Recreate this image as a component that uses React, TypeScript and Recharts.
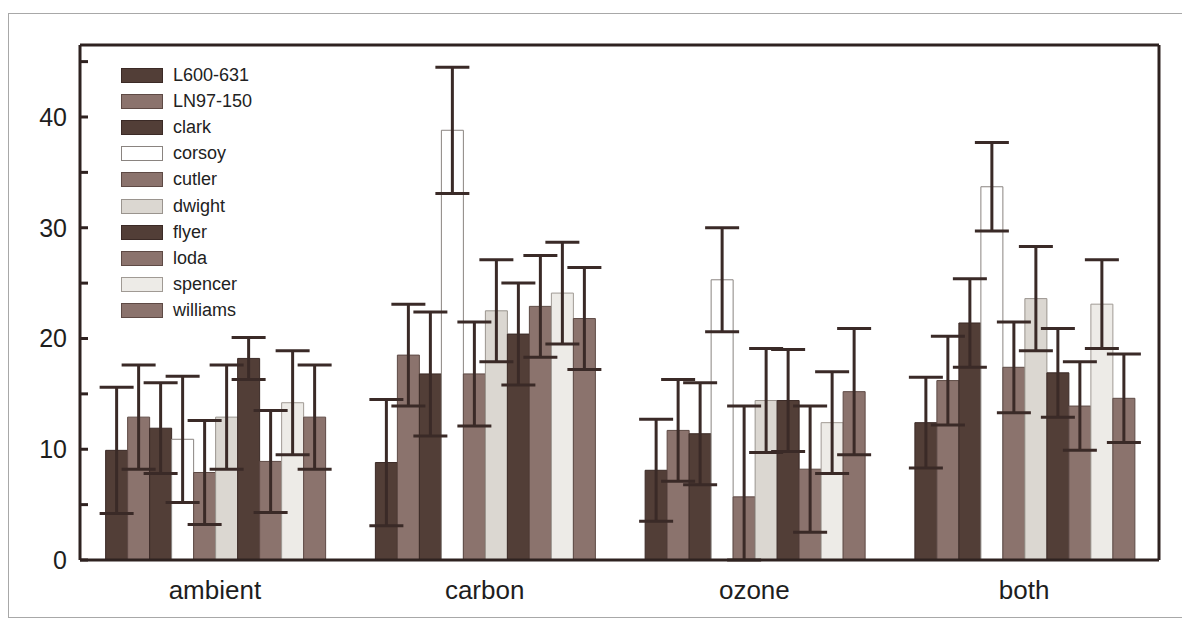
import { Bar, BarChart, ErrorBar, ReferenceLine, XAxis, YAxis } from "recharts";

const categories = ["ambient", "carbon", "ozone", "both"];

const seriesNames = ["L600-631", "LN97-150", "clark", "corsoy", "cutler", "dwight", "flyer", "loda", "spencer", "williams"];

// mean per category (ambient, carbon, ozone, both)
const l600 = [9.9, 8.8, 8.1, 12.4];
const ln97 = [12.9, 18.5, 11.7, 16.2];
const clark = [11.9, 16.8, 11.4, 21.4];
const corsoy = [10.9, 38.8, 25.3, 33.7];
const cutler = [7.9, 16.8, 5.7, 17.4];
const dwight = [12.9, 22.5, 14.4, 23.6];
const flyer = [18.2, 20.4, 14.4, 16.9];
const loda = [8.9, 22.9, 8.2, 13.9];
const spencer = [14.2, 24.1, 12.4, 23.1];
const williams = [12.9, 21.8, 15.2, 14.6];

// error bar half-lengths
const l600Err = [5.7, 5.7, 4.6, 4.1];
const ln97Err = [4.7, 4.6, 4.6, 4.0];
const clarkErr = [4.1, 5.6, 4.6, 4.0];
const corsoyErr = [5.7, 5.7, 4.7, 4.0];
const cutlerErr = [4.7, 4.7, 8.2, 4.1];
const dwightErr = [4.7, 4.6, 4.7, 4.7];
const flyerErr = [1.9, 4.6, 4.6, 4.0];
const lodaErr = [4.6, 4.6, 5.7, 4.0];
const spencerErr = [4.7, 4.6, 4.6, 4.0];
const williamsErr = [4.7, 4.6, 5.7, 4.0];

const yTicks = [0, 5, 10, 15, 20, 25, 30, 35, 40, 45];

const values = [l600, ln97, clark, corsoy, cutler, dwight, flyer, loda, spencer, williams];
const errors = [l600Err, ln97Err, clarkErr, corsoyErr, cutlerErr, dwightErr, flyerErr, lodaErr, spencerErr, williamsErr];

const DARK = "#523e37";
const MID = "#8b736d";
const fills = [DARK, MID, DARK, "#ffffff", MID, "#dbd7d1", DARK, MID, "#edebe7", MID];
const strokes = ["#3b2a26", "#5e4a45", "#3b2a26", "#8a8480", "#5e4a45", "#9a948e", "#3b2a26", "#5e4a45", "#a09a94", "#5e4a45"];

const data = categories.map((cat, i) => {
  const row: Record<string, any> = { cat };
  seriesNames.forEach((s, k) => {
    const v = values[k][i];
    const e = errors[k][i];
    row[`s${k}`] = v;
    row[`e${k}`] = [Math.min(e, v), e];
  });
  return row;
});

const FONT = "'Liberation Sans', Arial, sans-serif";
const INK = "#2e2220";
const BAR_INK = "#3a2a27";

function LeftTick(props: any) {
  const { x, y, payload } = props;
  const ax = x + 13;
  return (
    <g>
      <line x1={ax} x2={ax + 8} y1={y} y2={y} stroke={INK} strokeWidth={3} />
      {payload.value % 10 === 0 && (
        <text x={x} y={y} dy={9} textAnchor="end" fontSize={25} fill="#1e1e1e" fontFamily={FONT}>
          {payload.value}
        </text>
      )}
    </g>
  );
}

function RightTick(props: any) {
  const { x, y } = props;
  return <line x1={x - 8} x2={x} y1={y} y2={y} stroke={INK} strokeWidth={3} />;
}

function LegendBox() {
  return (
    <div style={{ position: "absolute", left: 121, top: 62, fontFamily: FONT }}>
      {seriesNames.map((s, k) => (
        <div key={s} style={{ display: "flex", alignItems: "center", height: 26.2 }}>
          <div
            style={{
              width: 40,
              height: 13,
              background: fills[k],
              border: `1px solid ${strokes[k]}`,
              marginRight: 10,
            }}
          />
          <span style={{ fontSize: 18, color: "#222" }}>{s}</span>
        </div>
      ))}
    </div>
  );
}

export default function App() {
  return (
    <div style={{ position: "absolute", left: 0, top: 0, width: 1182, height: 618, background: "#fff", overflow: "hidden" }}>
      <div
        style={{
          position: "absolute",
          left: 8,
          top: 13,
          width: 1190,
          height: 603,
          border: "1px solid #a8a8a8",
        }}
      />
      <BarChart
        width={1182}
        height={618}
        data={data}
        margin={{ top: 45, right: 22, bottom: 0, left: 0 }}
        barCategoryGap="9.5%"
        barGap={0}
      >
        <XAxis
          dataKey="cat"
          height={58}
          tickLine={false}
          tickSize={0}
          tickMargin={21}
          axisLine={{ stroke: INK, strokeWidth: 3 }}
          tick={{ fontSize: 26, fill: "#1e1e1e", fontFamily: FONT }}
        />
        <YAxis
          width={80}
          domain={[0, 46.5]}
          ticks={yTicks}
          interval={0}
          tickSize={0}
          tickMargin={13}
          tickLine={false}
          axisLine={{ stroke: INK, strokeWidth: 3 }}
          tick={<LeftTick />}
        />
        <YAxis
          yAxisId="r"
          orientation="right"
          width={1}
          domain={[0, 46.5]}
          ticks={yTicks}
          interval={0}
          tickSize={0}
          tickMargin={0}
          tickLine={false}
          axisLine={{ stroke: INK, strokeWidth: 3 }}
          tick={<RightTick />}
        />
        <ReferenceLine y={46.5} stroke={INK} strokeWidth={3} />
        {seriesNames.map((s, k) => (
          <Bar
            key={s}
            dataKey={`s${k}`}
            name={s}
            fill={fills[k]}
            stroke={strokes[k]}
            strokeWidth={1}
            isAnimationActive={false}
          >
            <ErrorBar dataKey={`e${k}`} width={17} stroke={BAR_INK} strokeWidth={3} direction="y" />
          </Bar>
        ))}
      </BarChart>
      <LegendBox />
    </div>
  );
}
